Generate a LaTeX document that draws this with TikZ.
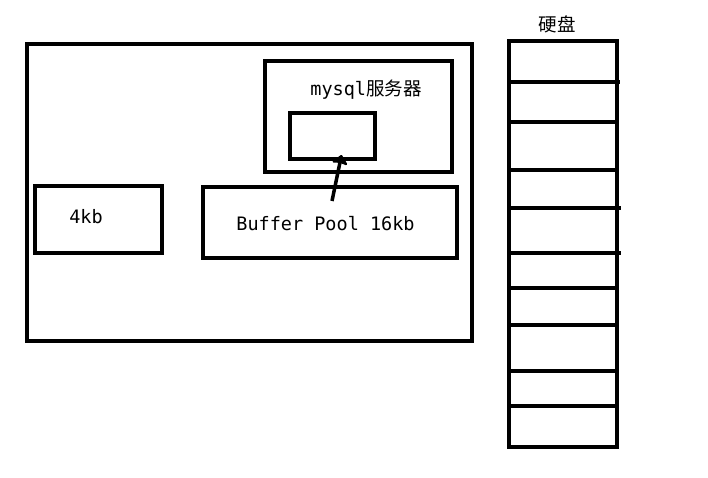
\documentclass[tikz,border=0pt]{standalone}
\usepackage{fontspec}
\setmonofont{DejaVu Sans Mono}
\newfontfamily\cjk{Noto Sans CJK SC}
\usetikzlibrary{arrows.meta,positioning}

\begin{document}
\begin{tikzpicture}[
    x=1pt, y=-1pt,
    font=\ttfamily\fontsize{18.5}{22}\selectfont,
    frame/.style={draw=black, line width=4pt, fill=none, inner sep=0pt},
    label/.style={inner sep=0pt, text=black},
    arrow/.style={-{Stealth[length=10pt, width=18pt, inset=1.5pt, round]}, line width=3.5pt}
]
  \useasboundingbox (0,0) rectangle (708,477);

  % -------------------------------------------------------------
  % MEMORIA: BOX GRANDE
  % -------------------------------------------------------------
  \node[frame, minimum width=445pt, minimum height=297pt] (mem) at (249.5, 192.5) {};

  % Servidor mysql
  \node[frame, minimum width=187pt, minimum height=111pt] (server) at (358.5, 116.5) {};
  \node[label] (server_txt) at (366, 90) {mysql{\cjk 服务器}};
  \node[frame, minimum width=85pt, minimum height=46pt] (cache) at (332.5, 136) {};

  % Paginas
  \node[frame, minimum width=127pt, minimum height=67pt] (page) at (98.5, 219.5) {};
  \node[label] (page_txt) at (86, 217) {4kb};

  \node[frame, minimum width=254pt, minimum height=71pt] (pool) at (330, 222.5) {};
  \node[label] (pool_txt) at (325.5, 224) {Buffer Pool 16kb};

  \coordinate (pool_tail) at (332, 201);
  \draw[arrow] (pool_tail) -- ([xshift=9pt, yshift=6pt]cache.south);

  % -------------------------------------------------------------
  % DISCO
  % -------------------------------------------------------------
  \node[frame, minimum width=108pt, minimum height=406pt] (disk) at (563, 244) {};
  \node[label, font=\cjk\fontsize{18.5}{22}\selectfont] (disk_txt) at (557, 24) {硬盘};

  \foreach \y/\l/\r in {82/511/620, 122/507/617, 170/511/619, 208/511/621, 253/511/621,
                         288/511/617, 325/511/619, 371/511/619, 406/507/617}
    \draw[line width=4pt] (\l, \y) -- (\r, \y);

\end{tikzpicture}
\end{document}
